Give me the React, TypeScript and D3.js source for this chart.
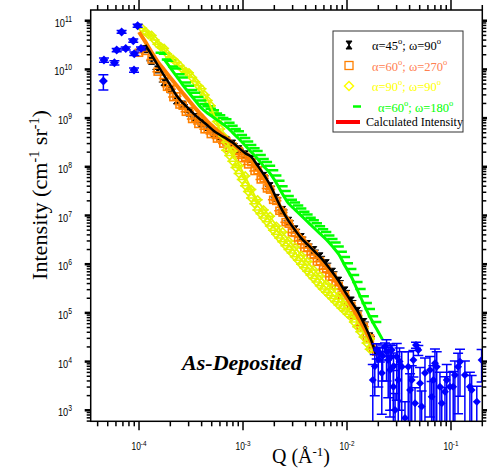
import React from 'react';
import * as d3 from 'd3';

const W = 487;
const H = 469;
const PL = 90.7, PR = 482.3, PT = 10, PB = 421.3;

// Q grid of the SANS data (Å^-1)
const qGrid = [1.00e-4, 1.15e-4, 1.32e-4, 1.51e-4, 1.74e-4, 2.00e-4, 2.29e-4, 2.63e-4, 3.02e-4, 3.47e-4,
  3.98e-4, 4.57e-4, 5.25e-4, 6.03e-4, 6.92e-4, 7.94e-4, 9.12e-4, 1.05e-3, 1.20e-3, 1.38e-3,
  1.58e-3, 1.82e-3, 2.09e-3, 2.40e-3, 2.75e-3, 3.16e-3, 3.63e-3, 4.17e-3, 4.79e-3, 5.50e-3,
  6.31e-3, 7.24e-3, 8.32e-3, 9.55e-3, 1.10e-2, 1.26e-2, 1.45e-2, 1.66e-2, 1.91e-2, 2.19e-2];
// interleaved Q points (second detector setting)
const qMid = [1.07e-4, 1.23e-4, 1.41e-4, 1.62e-4, 1.86e-4, 2.14e-4, 2.45e-4, 2.82e-4, 3.24e-4, 3.72e-4,
  4.27e-4, 4.90e-4, 5.62e-4, 6.46e-4, 7.41e-4, 8.51e-4, 9.77e-4, 1.12e-3, 1.29e-3, 1.48e-3,
  1.70e-3, 1.95e-3, 2.24e-3, 2.57e-3, 2.95e-3, 3.39e-3, 3.89e-3, 4.47e-3, 5.13e-3, 5.89e-3,
  6.76e-3, 7.76e-3, 8.91e-3, 1.02e-2, 1.17e-2, 1.35e-2, 1.55e-2, 1.78e-2];

// α=45°, ω=90° measured
const blackData = [null, 2.6e10, 1.5e10, 1.0e10, 5.5e9, 3.9e9, 2.3e9, 1.9e9, 1.3e9, 1.05e9,
  8.0e8, 6.6e8, 5.0e8, 4.3e8, 3.5e8, 3.0e8, 2.3e8, 1.8e8, 1.45e8, 1.0e8,
  6.5e7, 4.0e7, 2.3e7, 1.3e7, 7.8e6, 5.2e6, 3.6e6, 2.6e6, 1.95e6, 1.45e6,
  1.05e6, 7.0e5, 4.6e5, 2.9e5, 1.8e5, 1.1e5, 6.5e4, 3.3e4, 1.6e4, null];
const blackFit = [null, 3.17e10, 1.99e10, 1.23e10, 7.57e9, 4.72e9, 2.92e9, 2.07e9, 1.55e9, 1.15e9,
  8.97e8, 7.05e8, 5.46e8, 4.50e8, 3.78e8, 3.16e8, 2.45e8, 1.91e8, 1.60e8, 1.06e8,
  6.98e7, 4.25e7, 2.29e7, 1.24e7, 7.67e6, 5.04e6, 3.42e6, 2.54e6, 1.89e6, 1.41e6,
  1.00e6, 6.85e5, 4.50e5, 2.74e5, 1.71e5, 1.10e5, 6.11e4, 3.23e4, 1.37e4, null];

// α=60°, ω=270°
const orangeData = [2.2e10, 2.4e10, 1.6e10, 9.0e9, 6.5e9, 4.0e9, 2.8e9, 1.8e9, 1.4e9, 1.0e9,
  8.5e8, 6.0e8, 5.2e8, 4.0e8, 3.3e8, 2.6e8, 2.1e8, 1.6e8, 1.25e8, 8.5e7,
  5.8e7, 3.4e7, 2.0e7, 1.15e7, 6.8e6, 4.4e6, 3.1e6, 2.2e6, 1.6e6, 1.15e6,
  8.2e5, 5.6e5, 3.6e5, 2.3e5, 1.4e5, 8.8e4, 5.2e4, 3.0e4, 1.6e4, null];
const orangeData2 = [null, null, null, null, 4.4e9, 2.7e9, 1.9e9, 1.35e9, 9.6e8, 7.6e8,
  5.9e8, 4.7e8, 3.8e8, 3.0e8, 2.45e8, 1.9e8, 1.5e8, 1.12e8, 8.2e7, 5.5e7,
  3.6e7, 2.1e7, 1.25e7, 7.3e6, 4.5e6, 3.0e6, 2.15e6, 1.55e6, 1.12e6, 7.9e5,
  5.5e5, 3.7e5, 2.35e5, 1.45e5, 9.0e4, 5.5e4, 3.2e4, 1.9e4];
const orangeFit = [5.86e10, 3.67e10, 2.25e10, 1.45e10, 9.82e9, 6.76e9, 4.74e9, 3.29e9, 2.30e9, 1.60e9,
  1.16e9, 8.47e8, 6.41e8, 4.90e8, 3.83e8, 3.05e8, 2.40e8, 1.85e8, 1.39e8, 8.97e7,
  5.83e7, 3.50e7, 2.05e7, 1.25e7, 7.89e6, 5.04e6, 3.62e6, 2.58e6, 1.83e6, 1.28e6,
  8.85e5, 5.75e5, 3.72e5, 2.31e5, 1.41e5, 8.55e4, 5.09e4, 2.91e4, 1.56e4, null];

// α=90°, ω=90°
const yellowData = [null, 6.0e10, 5.0e10, 3.3e10, 2.7e10, 1.75e10, 1.4e10, 1.0e10, 8.5e9, 5.6e9,
  4.0e9, 2.3e9, 1.3e9, 6.0e8, 3.2e8, 2.1e8, 1.05e8, 6.5e7, 3.4e7, 2.1e7,
  1.3e7, 9.6e6, 6.0e6, 4.6e6, 3.0e6, 2.25e6, 1.5e6, 1.13e6, 7.6e5, 5.7e5,
  3.9e5, 3.1e5, 2.2e5, 1.7e5, 1.2e5, 8.3e4, 4.7e4, 2.9e4, null, null];
const yellowData2 = [null, null, null, null, null, null, null, null, null, null,
  null, null, null, null, 2.2e8, 1.3e8, 7.3e7, 4.1e7, 2.3e7, 1.3e7,
  8.9e6, 6.1e6, 4.1e6, 2.9e6, 2.0e6, 1.42e6, 1.0e6, 7.2e5, 5.1e5, 3.6e5,
  2.65e5, 1.98e5, 1.46e5, 1.09e5, 8.1e4, 5.2e4, 3.2e4, 1.8e4, null, null];
const yellowMid = [7.0e10, 5.2e10, 4.0e10, 2.9e10, 2.1e10, 1.6e10, 1.2e10, 9.0e9, 6.8e9, 4.6e9,
  3.0e9, 1.8e9, 8.5e8, 4.3e8, 1.7e8, 9.7e7, 5.5e7, 3.1e7, 1.75e7, 1.08e7,
  7.4e6, 5.0e6, 3.45e6, 2.4e6, 1.7e6, 1.2e6, 8.5e5, 6.0e5, 4.3e5, 3.1e5,
  2.3e5, 1.7e5, 1.25e5, 9.4e4, 6.5e4, 4.1e4, 2.4e4, null];
const yellowFit = [null, 6.44e10, 4.74e10, 3.53e10, 2.56e10, 1.83e10, 1.34e10, 1.05e10, 8.20e9, 5.94e9,
  3.79e9, 2.42e9, 1.17e9, 5.65e8, 3.34e8, 1.99e8, 1.12e8, 6.26e7, 3.53e7, 2.00e7,
  1.37e7, 9.31e6, 6.32e6, 4.40e6, 3.10e6, 2.19e6, 1.55e6, 1.10e6, 7.85e5, 5.56e5,
  4.07e5, 3.04e5, 2.25e5, 1.68e5, 1.25e5, 8.05e4, 4.87e4, 2.80e4, null, null];

// α=60°, ω=180°
const greenData = [null, null, null, null, 2.1e10, 1.5e10, 1.05e10, 6.8e9, 4.6e9, 3.3e9,
  2.3e9, 1.75e9, 1.45e9, 1.15e9, 9.5e8, 7.0e8, 5.4e8, 3.9e8, 2.8e8, 2.1e8,
  1.45e8, 1.05e8, 6.6e7, 4.0e7, 2.5e7, 1.85e7, 1.4e7, 1.05e7, 8.0e6, 6.0e6,
  4.6e6, 3.3e6, 2.3e6, 1.4e6, 8.0e5, 4.3e5, 2.2e5, 1.2e5, 6.5e4, null];
const greenMid = [null, null, null, 2.2e10, 1.6e10, 1.15e10, 8.0e9, 5.4e9, 3.8e9, 2.7e9,
  1.95e9, 1.55e9, 1.25e9, 1.0e9, 8.0e8, 6.0e8, 4.5e8, 3.3e8, 2.4e8, 1.75e8,
  1.25e8, 8.5e7, 5.2e7, 3.2e7, 2.1e7, 1.6e7, 1.2e7, 9.0e6, 6.9e6, 5.2e6,
  3.9e6, 2.8e6, 1.8e6, 1.05e6, 6.0e5, 3.1e5, 1.6e5, 8.5e4];
const greenFit = [null, null, null, null, 1.63e10, 1.08e10, 7.25e9, 4.83e9, 3.31e9, 2.30e9,
  1.61e9, 1.26e9, 1.02e9, 8.28e8, 6.69e8, 5.04e8, 3.76e8, 2.75e8, 2.01e8, 1.47e8,
  1.03e8, 7.31e7, 4.67e7, 2.76e7, 1.75e7, 1.32e7, 9.91e6, 7.46e6, 5.61e6, 4.25e6,
  3.23e6, 2.32e6, 1.60e6, 9.31e5, 5.51e5, 2.94e5, 1.51e5, 8.32e4, 4.83e4, 2.86e4];

// USAXS points (blue)
const blueLowQ = [4.54e-5, 4.6e-5, 5.8e-5, 6.1e-5, 6.8e-5, 7.45e-5, 8.95e-5, 8.8e-5, 9.0e-5, 9.7e-5, 1.045e-4];
const blueLowI = [5.8e9, 1.56e10, 1.37e10, 2.5e10, 5.9e10, 2.7e10, 9.7e9, 3.9e10, 2.1e10, 7.9e10, 2.7e10];
const blueLowErr = [2.0e9, 1.5e9, 1.4e9, 2.0e9, 4e9, 2e9, 1e9, 3e9, 1.8e9, 6e9, 2e9];

const blueHiQ = [1.77e-2, 1.85e-2, 1.93e-2, 2.0e-2, 2.07e-2, 2.16e-2, 2.2e-2, 2.32e-2, 2.4e-2, 2.49e-2,
  2.59e-2, 2.6e-2, 2.69e-2, 2.79e-2, 2.8e-2, 2.90e-2, 3.01e-2, 3.11e-2, 3.2e-2, 3.36e-2,
  3.61e-2, 3.88e-2, 4.04e-2, 4.19e-2, 4.35e-2, 4.51e-2, 4.61e-2, 4.85e-2, 5.04e-2, 5.22e-2,
  5.62e-2, 6.28e-2, 6.52e-2, 6.76e-2, 7.01e-2, 7.29e-2, 7.83e-2, 8.15e-2, 8.75e-2, 9.1e-2,
  9.77e-2, 1.05e-1, 1.09e-1, 1.17e-1, 1.22e-1, 1.36e-1, 1.52e-1, 1.58e-1, 1.77e-1, 1.97e-1];
const blueHiI = [4.19e3, 8.0e3, 1.73e4, 1.1e4, 1.48e4, 5.83e3, 1.3e4, 2.02e4, 1.6e4, 1.08e4,
  6.73e3, 1.2e4, 1.73e4, 3.05e3, 8.0e3, 1.01e3, 1.26e4, 4.19e3, 1.0e4, 7.85e3,
  6.95e2, 7.85e3, 2.61e3, 4.19e3, 1.08e4, 1.39e3, 2.19e4, 1.73e4, 3.58e3, 1.19e3,
  5.83e3, 6.73e3, 1.9e3, 4.19e3, 9.23e3, 7.85e3, 3.05e3, 1.39e3, 2.41e3, 4.19e3,
  3.05e3, 3.05e3, 5.31e3, 7.85e3, 9.95e3, 5.31e3, 3.05e3, 2.61e3, 1.5e3, 1.08e4];
const blueHiErr = [4.5e3, 6e3, 6e3, 8e3, 5e3, 5e3, 9e3, 4e3, 1.2e4, 9e3,
  6e3, 1.1e4, 4e3, 3.5e3, 7e3, 1.2e3, 1.1e4, 4.5e3, 9e3, 8e3,
  8e2, 8e3, 3e3, 4e3, 6e3, 1.5e3, 3e3, 4e3, 4e3, 1.3e3,
  6e3, 6e3, 2e3, 4e3, 9e3, 8e3, 3e3, 1.5e3, 2.5e3, 4.5e3,
  3e3, 3.2e3, 5e3, 7e3, 8e3, 5e3, 3e3, 2.6e3, 1.6e3, 7e3];

const xTickExps = [-4, -3, -2, -1];
const yTickExps = [3, 4, 5, 6, 7, 8, 9, 10, 11];

const legendRows = [
  { a: '45', w: '90', color: '#000000', marker: 'hour' },
  { a: '60', w: '270', color: '#FF8050', marker: 'square' },
  { a: '90', w: '90', color: '#FFFF00', marker: 'diamond' },
  { a: '60', w: '180', color: '#00FF00', marker: 'dash' },
];

const C_BLACK = '#000000';
const C_ORANGE = '#FF8000';
const C_YELLOW = '#E2F500';
const C_GREEN = '#00FF00';
const C_BLUE = '#0000FF';

type P = [number, number];
const zip = (qs: number[], arr: (number | null)[]): P[] =>
  qs.map((q, i) => [q, arr[i]] as [number, number | null]).filter(d => d[1] != null) as P[];
const pts = (arr: (number | null)[]): P[] => zip(qGrid, arr);

export default function App() {
  const x = d3.scaleLog().domain([3.43e-5, 0.2]).range([PL, PR]);
  const y = d3.scaleLog().domain([594, 1.66e11]).range([PB, PT]);
  const line = d3.line<P>().x(d => x(d[0])).y(d => y(d[1])).curve(d3.curveCatmullRom.alpha(0.5));

  const xMinor: number[] = [];
  for (let e = -5; e <= -1; e++) for (let m = 1; m <= 9; m++) {
    const v = m * Math.pow(10, e);
    if (v >= 3.43e-5 && v <= 0.2001) xMinor.push(v);
  }
  const yMinor: number[] = [];
  for (let e = 2; e <= 11; e++) for (let m = 1; m <= 9; m++) {
    const v = m * Math.pow(10, e);
    if (v >= 594 && v <= 1.66e11) yMinor.push(v);
  }
  const isMajor = (v: number) => Math.abs(Math.log10(v) - Math.round(Math.log10(v))) < 1e-6;

  const hbar = (q: number, I: number, color: string, w = 1) => (
    <line x1={x(q * 0.89)} x2={x(q * 1.12)} y1={y(I)} y2={y(I)} stroke={color} strokeWidth={w} />
  );

  const blackPts = pts(blackData);
  const orangePts = pts(orangeData).concat(zip(qMid, orangeData2));
  const yellowPts = pts(yellowData).concat(pts(yellowData2)).concat(zip(qMid, yellowMid));
  const greenPts = pts(greenData).concat(zip(qMid, greenMid));

  const bottomY = PB + 5;
  const blueBars = (qs: number[], is: number[], es: number[], prefix: string) =>
    qs.map((q, i) => {
      const cx = x(q);
      const top = y(is[i] + es[i]);
      const low = is[i] - es[i];
      const bot = low > 594 ? y(low) : bottomY;
      return (
        <g key={prefix + i} stroke={C_BLUE} strokeWidth={1.5}>
          <line x1={cx} x2={cx} y1={top} y2={bot} />
          <line x1={cx - 5} x2={cx + 5} y1={top} y2={top} />
          {low > 594 && <line x1={cx - 5} x2={cx + 5} y1={bot} y2={bot} />}
        </g>
      );
    });
  const diamond = (cx: number, cy: number, r: number) =>
    `M${cx},${cy - r}L${cx + r},${cy}L${cx},${cy + r}L${cx - r},${cy}Z`;

  const serif = '"Liberation Serif", "Times New Roman", serif';
  const sans = '"Liberation Sans", Arial, sans-serif';

  return (
    <svg width={W} height={H} style={{ position: 'absolute', left: 0, top: 0, background: '#fff' }}
      xmlns="http://www.w3.org/2000/svg">
      <defs>
        <clipPath id="plotclip">
          <rect x={PL} y={PT} width={PR - PL} height={PB - PT} />
        </clipPath>
      </defs>
      <rect x={0} y={0} width={W} height={H} fill="#fff" />

      <g clipPath="url(#plotclip)">
        {/* black data: hourglass markers */}
        {blackPts.map((d, i) => {
          const cx = x(d[0]), cy = y(d[1]);
          return (
            <g key={'b' + i}>
              {hbar(d[0], d[1], C_BLACK, 1)}
              <path d={`M${cx - 3},${cy - 3.5}h6l-6,7h6z`} fill={C_BLACK} stroke={C_BLACK} strokeWidth={1} />
            </g>
          );
        })}
        {/* orange data: open squares */}
        {orangePts.map((d, i) => {
          const cx = x(d[0]), cy = y(d[1]);
          return (
            <g key={'o' + i}>
              {hbar(d[0], d[1], C_ORANGE, 1.5)}
              <rect x={cx - 3.5} y={cy - 3.5} width={7} height={7} fill="none" stroke={C_ORANGE} strokeWidth={1.6} />
            </g>
          );
        })}
        {/* yellow data: open diamonds */}
        {yellowPts.map((d, i) => {
          const cx = x(d[0]), cy = y(d[1]);
          return (
            <g key={'y' + i}>
              {hbar(d[0], d[1], C_YELLOW, 1.5)}
              <path d={diamond(cx, cy, 4)} fill="none" stroke={C_YELLOW} strokeWidth={1.6} />
            </g>
          );
        })}
        {/* green data: dashes */}
        {greenPts.map((d, i) => (
          <g key={'g' + i}>
            {hbar(d[0], d[1], C_GREEN, 2.5)}
          </g>
        ))}

        {/* calculated intensities */}
        <path d={line(pts(yellowFit)) || ''} fill="none" stroke={C_YELLOW} strokeWidth={2} />
        <path d={line(pts(greenFit)) || ''} fill="none" stroke={C_GREEN} strokeWidth={3} />
        <path d={line(pts(orangeFit)) || ''} fill="none" stroke={C_ORANGE} strokeWidth={4} />
        <path d={line(pts(blackFit)) || ''} fill="none" stroke={C_BLACK} strokeWidth={2.5} />

        {/* blue points */}
        {blueBars(blueLowQ, blueLowI, blueLowErr, 'bl')}
        {blueBars(blueHiQ, blueHiI, blueHiErr, 'bh')}
        {blueLowQ.map((q, i) => <path key={'bld' + i} d={diamond(x(q), y(blueLowI[i]), 4.5)} fill={C_BLUE} />)}
        {blueHiQ.map((q, i) => <path key={'bhd' + i} d={diamond(x(q), y(blueHiI[i]), 4)} fill={C_BLUE} />)}
      </g>

      {/* frame */}
      <rect x={PL} y={PT} width={PR - PL} height={PB - PT} fill="none" stroke="#000" strokeWidth={1.5} />

      {/* x ticks top & bottom */}
      {xMinor.map((v, i) => {
        const major = isMajor(v);
        const px = x(v);
        return (
          <g key={'xt' + i} stroke="#000" strokeWidth={1.5}>
            <line x1={px} x2={px} y1={PB} y2={PB + (major ? 9 : 5)} />
            <line x1={px} x2={px} y1={PT} y2={PT - (major ? 10 : 5)} />
          </g>
        );
      })}
      {/* y ticks left & right */}
      {yMinor.map((v, i) => {
        const major = isMajor(v);
        const py = y(v);
        return (
          <g key={'yt' + i} stroke="#000" strokeWidth={major ? 2.5 : 1.5}>
            <line x1={PL} x2={PL - (major ? 6 : 4)} y1={py} y2={py} />
            <line x1={PR} x2={PR + (major ? 6 : 4)} y1={py} y2={py} />
          </g>
        );
      })}

      {/* tick labels */}
      {xTickExps.map(e => {
        const px = x(Math.pow(10, e));
        return (
          <text key={'xl' + e} transform={`translate(${px},450) scale(0.8,1)`} textAnchor="middle"
            fontFamily={sans} fontSize={10.5} fill="#000">
            10<tspan fontSize={8} dy={-4}>{String(e)}</tspan>
          </text>
        );
      })}
      {yTickExps.map(e => {
        const py = y(Math.pow(10, e));
        return (
          <text key={'yl' + e} transform={`translate(72,${py + 6}) scale(0.8,1)`} textAnchor="end"
            fontFamily={sans} fontSize={11.5} fill="#000">
            10<tspan fontSize={8.5} dy={-5}>{String(e)}</tspan>
          </text>
        );
      })}

      {/* axis titles */}
      <text transform="translate(47,195) rotate(-90)" textAnchor="middle" fontFamily={serif} fontSize={22}
        textLength={170} lengthAdjust="spacingAndGlyphs" fill="#000">
        Intensity (cm<tspan fontSize={14} dy={-8}>-1</tspan><tspan dy={8}> sr</tspan><tspan fontSize={14} dy={-8}>-1</tspan><tspan dy={8}>)</tspan>
      </text>
      <text x={301} y={463} textAnchor="middle" fontFamily={serif} fontSize={20} fill="#000">
        Q (Å<tspan fontSize={13} dy={-7}>-1</tspan><tspan dy={7}>)</tspan>
      </text>

      <text x={242} y={370} textAnchor="middle" fontFamily={serif} fontSize={22} fontWeight="bold"
        fontStyle="italic" fill="#000">As-Deposited</text>

      {/* legend */}
      <rect x={333} y={31} width={130} height={101} fill="#fff" stroke="#333" strokeWidth={1} />
      {legendRows.map((r, i) => {
        const cy = 45 + i * 20.5;
        const mx = 349;
        let marker: React.ReactNode = null;
        if (r.marker === 'hour') marker = <path d={`M${mx - 3},${cy - 4}h6l-6,8h6z`} fill="#000" stroke="#000" strokeWidth={1} />;
        if (r.marker === 'square') marker = <rect x={mx - 4} y={cy - 4} width={8} height={8} fill="none" stroke={C_ORANGE} strokeWidth={1.3} />;
        if (r.marker === 'diamond') marker = <path d={diamond(mx, cy, 4.5)} fill="none" stroke="#FFFF00" strokeWidth={1.5} />;
        if (r.marker === 'dash') marker = <line x1={353} x2={361} y1={cy} y2={cy} stroke={C_GREEN} strokeWidth={2.5} />;
        const tx = r.marker === 'dash' ? 378 : 372;
        return (
          <g key={'lg' + i}>
            {marker}
            <text x={tx} y={cy + 5} fontFamily={serif} fontSize={12.5} fill={r.color}>
              α={r.a}<tspan fontSize={8.5} dy={-6}>o</tspan><tspan dy={6}>; ω={r.w}</tspan><tspan fontSize={8.5} dy={-6}>o</tspan>
            </text>
          </g>
        );
      })}
      <line x1={336} x2={360} y1={122} y2={122} stroke="#FF0000" strokeWidth={4} />
      <text x={366} y={126} fontFamily={serif} fontSize={12.5} fill="#000" textLength={97} lengthAdjust="spacingAndGlyphs">Calculated Intensity</text>
    </svg>
  );
}
